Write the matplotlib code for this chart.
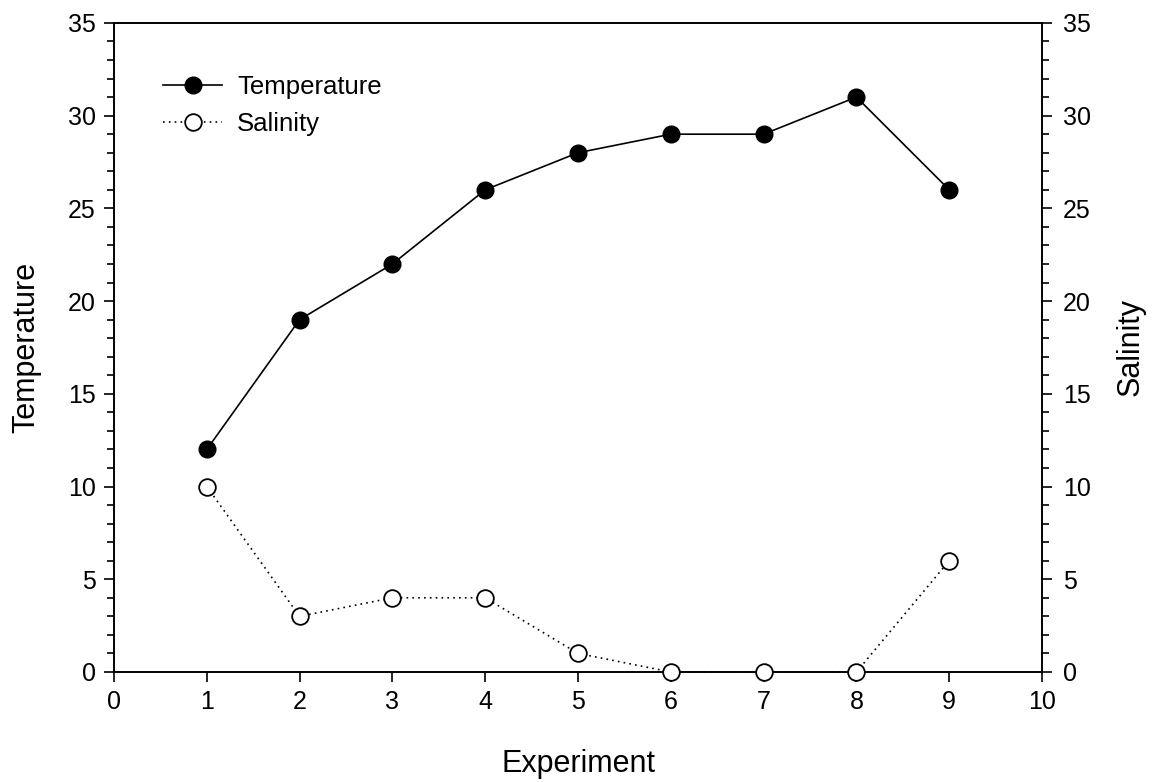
import matplotlib
matplotlib.use("Agg")
import matplotlib.pyplot as plt
from matplotlib.ticker import MultipleLocator
from matplotlib.lines import Line2D

plt.rcParams['font.family'] = ['Liberation Sans', 'DejaVu Sans']

# measurements per experiment
experiment = [1, 2, 3, 4, 5, 6, 7, 8, 9]
temperature = [12, 19, 22, 26, 28, 29, 29, 31, 26]
salinity = [10, 3, 4, 4, 1, 0, 0, 0, 6]

dotted = (0, (1, 2.5))

fig = plt.figure(figsize=(11.55, 7.82), dpi=100)
ax = fig.add_axes([0.0987, 0.1407, 0.8035, 0.83])
ax2 = ax.twinx()

ax.plot(experiment, temperature, color='black', lw=1.2, marker='o', ms=12,
        mfc='black', mec='black', clip_on=False, zorder=3)
ax2.plot(experiment, salinity, color='black', lw=1.2, ls=dotted, marker='o', ms=12,
         mfc='white', mec='black', mew=1.3, clip_on=False, zorder=3)

for a in (ax, ax2):
    a.set_xlim(0, 10)
    a.set_ylim(0, 35)
    a.yaxis.set_major_locator(MultipleLocator(5))
    a.yaxis.set_minor_locator(MultipleLocator(1))
    a.tick_params(which='major', direction='out', length=7, width=1.2, labelsize=18)
    a.tick_params(which='minor', direction='out', length=5, width=1.2)
    for s in a.spines.values():
        s.set_linewidth(1.2)

ax.xaxis.set_major_locator(MultipleLocator(1))
ax.tick_params(axis='x', pad=6)
ax.tick_params(axis='y', pad=6)
ax2.tick_params(axis='y', pad=8)

ax.set_xlabel('Experiment', fontsize=22, labelpad=25)
ax.set_ylabel('Temperature', fontsize=22, labelpad=19)
ax2.set_ylabel('Salinity', fontsize=22, rotation=90, labelpad=18)

handles = [
    Line2D([], [], color='black', lw=1.2, marker='o', ms=12, mfc='black'),
    Line2D([], [], color='black', lw=1.2, ls=dotted, marker='o', ms=12, mfc='white', mew=1.3),
]
ax.legend(handles, ['Temperature', 'Salinity'], loc='upper left', bbox_to_anchor=(0.053, 0.92),
          borderaxespad=0, borderpad=0, frameon=False, fontsize=18.5,
          handlelength=2.3, handletextpad=0.58, labelspacing=0.5)

fig.savefig('out.png', dpi=100)
